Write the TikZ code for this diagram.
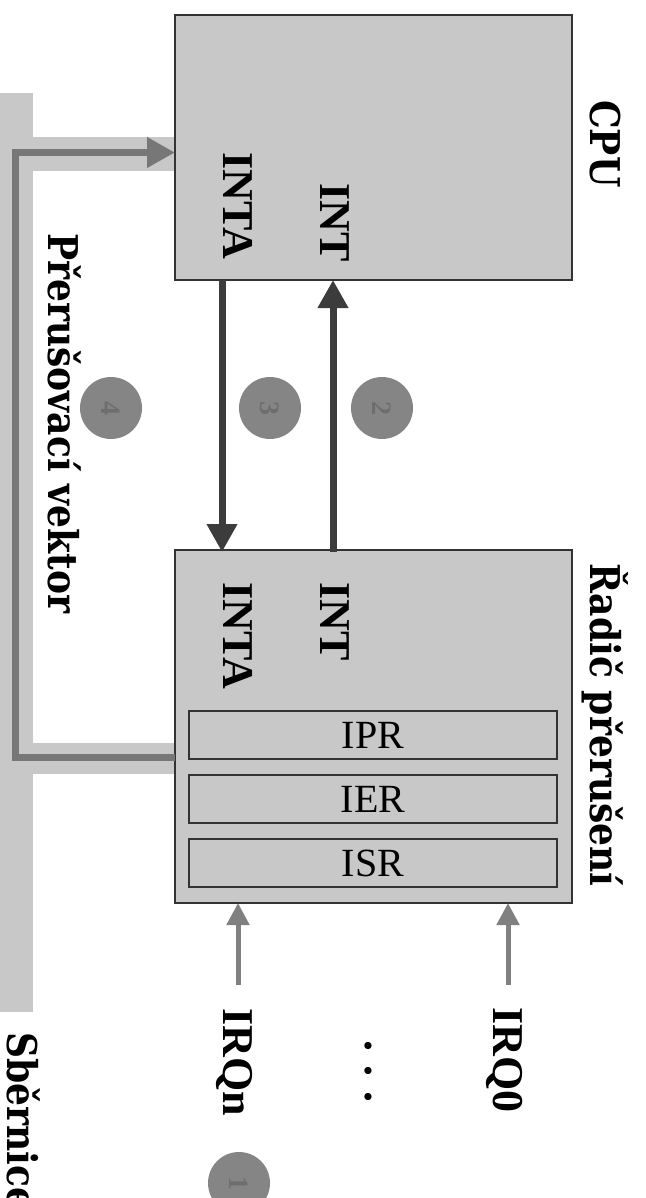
\documentclass[tikz,border=0pt]{standalone}
\usepackage{fontspec}
\setmainfont{Liberation Serif}
\newfontfamily\headfont[FakeStretch=0.88]{DejaVu Serif}
\usetikzlibrary{arrows.meta}
\definecolor{boxgray}{HTML}{C8C8C8}
\definecolor{busgray}{HTML}{C8C8C8}
\definecolor{vecgray}{HTML}{777777}
\definecolor{darkline}{HTML}{3C3C3C}
\definecolor{irqgray}{HTML}{808080}
\definecolor{circgray}{HTML}{858585}
\definecolor{digitgray}{HTML}{6E6E6E}
\definecolor{border}{HTML}{333333}
\tikzset{
  unitbox/.style={draw=border, line width=2pt, fill=boxgray, inner sep=0},
  regbox/.style={draw=border, line width=2pt, fill=boxgray, inner sep=0,
    minimum width=368pt, minimum height=48pt, font=\fontsize{40}{46}\selectfont},
  lbl/.style={font=\fontsize{44}{50}\selectfont\bfseries, rotate=-90, anchor=base west, inner sep=0},
  head/.style={font=\headfont\fontsize{41}{48}\bfseries, rotate=-90, anchor=base west, inner sep=0},
  step3/.style={circle, fill=circgray, minimum size=62pt, inner sep=0,
    text=digitgray, font=\fontsize{28}{32}\selectfont\bfseries, rotate=-90},
  sigarrow/.style={draw=darkline, line width=7pt, -{Triangle[length=28pt,width=29pt]}},
  irqarrow/.style={draw=irqgray, line width=5pt, -{Triangle[length=22pt,width=22pt]}},
  vecarrow/.style={draw=vecgray, line width=7pt, -{Triangle[length=28pt,width=29pt]}},
}
\begin{document}
\begin{tikzpicture}[x=1pt,y=-1pt]
\useasboundingbox (0,0) rectangle (645,1198);
% bus
\fill[busgray] (0,93) rectangle (33,1012);
\fill[busgray] (33,137) rectangle (176,171);
\fill[busgray] (33,743) rectangle (176,774);
% boxes
\node[unitbox, minimum width=397pt, minimum height=265pt] (cpu) at (373.5,147.5) {};
\node[unitbox, minimum width=397pt, minimum height=353pt] (ctrl) at (373.5,726.5) {};
\node[regbox] (ipr) at (373,735) {IPR};
\node[regbox] (ier) at (373,799) {IER};
\node[regbox] (isr) at (373,863) {ISR};
% headings
\node[head] (cpulbl) at (590,100) {CPU};
\node[head] (ctrllbl) at (590,563) {Řadič přerušení};
\node[head] (veclbl) at (48,233) {Přerušovací vektor};
\node[head] (buslbl) at (7,1032) {Sběrnice};
% signal labels
\node[lbl] (cpuinta) at (223,152) {INTA};
\node[lbl] (cpuint) at (320,183) {INT};
\node[lbl] (ctrlinta) at (223,582) {INTA};
\node[lbl] (ctrlint) at (320,582) {INT};
\node[lbl] (irqn) at (223,1008) {IRQn};
\node[lbl] (irq0) at (493,1007) {IRQ0};
\node[lbl] (dots) at (365,1040) {. . .};
% connectors
\coordinate (inta-top) at (222,280);
\coordinate (inta-bot) at (222,552);
\coordinate (int-top) at (333,280);
\coordinate (int-bot) at (333,552);
\draw[sigarrow] (inta-top) -- (inta-bot);
\draw[sigarrow] (int-bot) -- (int-top);
\coordinate (irqn-end) at (238,985);
\coordinate (irqn-box) at (238,903);
\coordinate (irq0-end) at (508,985);
\coordinate (irq0-box) at (508,903);
\draw[irqarrow] (irqn-end) -- (irqn-box);
\draw[irqarrow] (irq0-end) -- (irq0-box);
\coordinate (vec-start) at (175,757);
\coordinate (vec-c1) at (15,757);
\coordinate (vec-c2) at (15,152.5);
\coordinate (vec-end) at (175,152.5);
\draw[vecarrow] (vec-start) -- (vec-c1) -- (vec-c2) -- (vec-end);
% step circles
\node[step3] (s2) at (382,408) {2};
\node[step3] (s3) at (270,408) {3};
\node[step3] (s4) at (111,408) {4};
\node[step3] (s1) at (239,1183) {1};
\end{tikzpicture}
\end{document}
